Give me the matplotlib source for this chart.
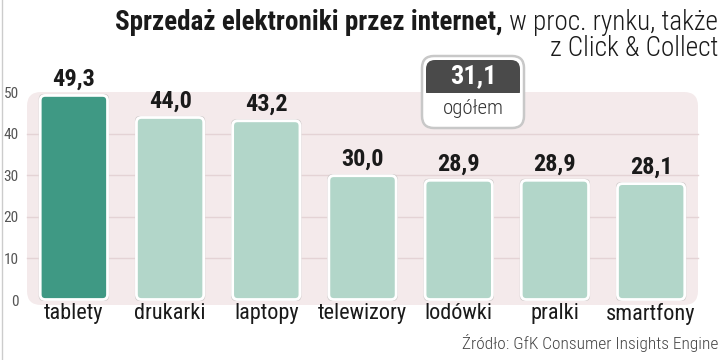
import matplotlib
matplotlib.use("Agg")
import matplotlib.pyplot as plt
from matplotlib import font_manager as fm
from matplotlib.patches import FancyBboxPatch, Rectangle
from matplotlib.transforms import IdentityTransform

categories = ["tablety", "drukarki", "laptopy", "telewizory", "lodówki", "pralki", "smartfony"]
values = [49.3, 44.0, 43.2, 30.0, 28.9, 28.9, 28.1]
value_labels = ["49,3", "44,0", "43,2", "30,0", "28,9", "28,9", "28,1"]
yticks = [0, 10, 20, 30, 40, 50]
total_value = "31,1"
total_label = "ogółem"
title_bold = "Sprzedaż elektroniki przez internet,"
title_light = " w proc. rynku, także"
title_line2 = "z Click & Collect"
source = "Źródło: GfK Consumer Insights Engine"

def pick(names):
    for n in names:
        try:
            fm.findfont(fm.FontProperties(family=n), fallback_to_default=False)
            return n
        except Exception:
            pass
    return "DejaVu Sans"

FONT = pick(["Roboto Condensed", "Liberation Sans Narrow", "DejaVu Sans Condensed", "Roboto"])

W, H = 720, 360
fig = plt.figure(figsize=(7.2, 3.6), dpi=100)
fig.patch.set_facecolor("white")

ax_left, ax_right, ax_top, ax_bottom = 20, 705, 50, 300
ax = fig.add_axes([ax_left / W, 1 - ax_bottom / H, (ax_right - ax_left) / W, (ax_bottom - ax_top) / H])
ax.set_facecolor("none")
for s in ax.spines.values():
    s.set_visible(False)
xpos = list(range(len(categories)))
ax.set_xlim(-0.56, 6.56)
ax.set_ylim(0, 60.1)

def add(p):
    p.set_transform(IdentityTransform())
    p.set_clip_on(False)
    ax.add_artist(p)

# background panel (pixel coords)
add(FancyBboxPatch((27, H - 305), 671, 213, boxstyle="round,pad=0,rounding_size=14",
                   facecolor="#f4eaeb", edgecolor="none", zorder=0))

# gridlines
for t in [10, 20, 30, 40]:
    ax.axhline(t, xmin=(27 - ax_left) / (ax_right - ax_left), xmax=(698 - ax_left) / (ax_right - ax_left),
               color="#e4d3d5", lw=1.0, zorder=1)

colors = ["#3f9984"] + ["#b2d6c9"] * 6
bars = ax.bar(xpos, values, width=0.71, color=colors, zorder=2)
fig.canvas.draw()
for b, c in zip(bars, colors):
    bb = b.get_window_extent()
    b.set_visible(False)
    add(FancyBboxPatch((bb.x0 - 1, bb.y0 - 1), bb.width + 2, bb.height + 2,
                       boxstyle="round,pad=0,rounding_size=5",
                       facecolor="#cdc8c8", edgecolor="none", zorder=2))
    add(FancyBboxPatch((bb.x0 + 0.5, bb.y0 + 0.5), bb.width - 1, bb.height - 1,
                       boxstyle="round,pad=0,rounding_size=5",
                       facecolor=c, edgecolor="white", lw=2.0, zorder=3))

for x, v, lab in zip(xpos, values, value_labels):
    ax.annotate(lab, (x, v), xytext=(0, 3), textcoords="offset points", ha="center", va="bottom",
                fontsize=17.5, fontweight="bold", family=FONT, color="#1a1a1a", zorder=5)

ax.set_yticks(yticks)
ax.set_yticklabels([str(t) for t in yticks], fontsize=11, family=FONT, color="#555555")
ax.set_xticks(xpos)
ax.set_xticklabels(categories, fontsize=16, family=FONT, color="#1a1a1a")
ax.tick_params(axis="both", length=0)
ax.tick_params(axis="y", pad=1)
ax.tick_params(axis="x", pad=2)

# title
r = fig.canvas.get_renderer()
t2 = fig.text(718 / W, 1 - 22 / H, title_light, ha="right", va="center", fontsize=19.5, family=FONT,
              fontweight="light", color="#1a1a1a")
wb = t2.get_window_extent(renderer=r)
fig.text(wb.x0 / W, 1 - 22 / H, title_bold, ha="right", va="center", fontsize=19.5, family=FONT,
         fontweight="bold", color="#1a1a1a")
fig.text(718 / W, 1 - 49 / H, title_line2, ha="right", va="center", fontsize=19.5, family=FONT,
         fontweight="light", color="#1a1a1a")

# badge
add(FancyBboxPatch((422, H - 128), 102, 72, boxstyle="round,pad=0,rounding_size=12",
                   facecolor="white", edgecolor="#c8c8c8", lw=1.8, zorder=6))
add(FancyBboxPatch((426, H - 100), 94, 40, boxstyle="round,pad=0,rounding_size=9",
                   facecolor="#4a4a4a", edgecolor="none", zorder=7))
add(Rectangle((425, H - 101), 96, 8, facecolor="white", edgecolor="none", zorder=8))
ax.text(473, H - 76, total_value, transform=IdentityTransform(), ha="center", va="center",
        fontsize=19, fontweight="bold", family=FONT, color="white", zorder=9)
ax.text(473, H - 109, total_label, transform=IdentityTransform(), ha="center", va="center",
        fontsize=15, family=FONT, fontweight="light", color="#333333", zorder=9)

# source
fig.text(718 / W, 1 - 343 / H, source, ha="right", va="center", fontsize=12.5, family=FONT,
         fontweight="light", color="#444444")

# left frame line
fig.add_artist(plt.Line2D([1.5 / W, 1.5 / W], [0, 1], transform=fig.transFigure, color="#cccccc", lw=1))

ax.set_xlim(-0.56, 6.56)
ax.set_ylim(0, 60.1)
fig.savefig("out.png", dpi=100)
